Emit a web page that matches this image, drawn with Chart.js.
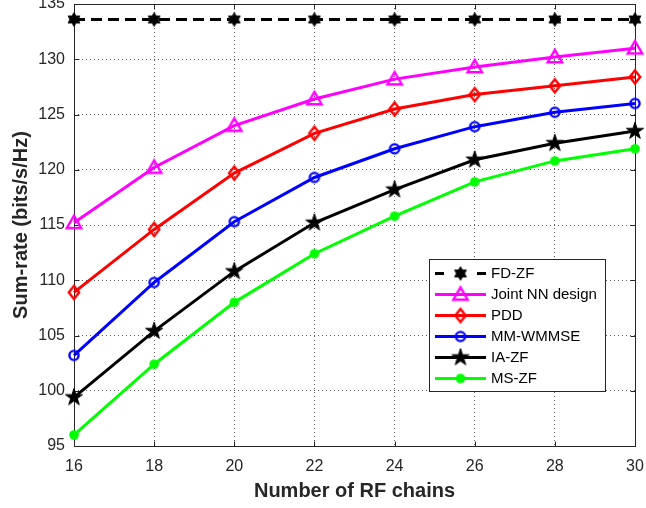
<!DOCTYPE html>
<html><head><meta charset="utf-8">
<script src="https://cdn.jsdelivr.net/npm/chart.js@4/dist/chart.umd.min.js"></script>
<style>html,body{margin:0;padding:0;background:#fff}#wrap{width:646px;height:508px;position:relative}</style>
</head><body><div id="wrap"><canvas id="c" width="646" height="508"></canvas></div>
<script>
// ---- data ----
const rfChains = [16, 18, 20, 22, 24, 26, 28, 30];
const fdZF     = [133.6, 133.6, 133.6, 133.6, 133.6, 133.6, 133.6, 133.6];
const jointNN  = [115.2, 120.2, 124.0, 126.4, 128.2, 129.3, 130.2, 131.0];
const pdd      = [108.9, 114.6, 119.7, 123.3, 125.5, 126.8, 127.6, 128.4];
const mmWMMSE  = [103.2, 109.8, 115.3, 119.3, 121.9, 123.9, 125.2, 126.0];
const iaZF     = [99.4, 105.4, 110.8, 115.2, 118.2, 120.9, 122.4, 123.5];
const msZF     = [96.0, 102.4, 108.0, 112.4, 115.8, 118.9, 120.8, 121.9];
const seriesNames = ['FD-ZF', 'Joint NN design', 'PDD', 'MM-WMMSE', 'IA-ZF', 'MS-ZF'];
const xTitle = 'Number of RF chains';
const yTitle = 'Sum-rate (bits/s/Hz)';

const FONT = "'Liberation Sans', Arial, Helvetica, sans-serif";
const TXT = '#262626';

// ---- marker images ----
function starPath(g, cx, cy, R, r, n) {
  g.beginPath();
  for (let k = 0; k < 2 * n; k++) {
    const a = -Math.PI / 2 + k * Math.PI / n;
    const rad = (k % 2 === 0) ? R : r;
    const px = cx + rad * Math.cos(a), py = cy + rad * Math.sin(a);
    if (k === 0) g.moveTo(px, py); else g.lineTo(px, py);
  }
  g.closePath();
}
function makeMarker(kind, color) {
  const sz = 24, m = sz / 2;
  const c = document.createElement('canvas');
  c.width = sz; c.height = sz;
  const g = c.getContext('2d');
  g.strokeStyle = color; g.fillStyle = color; g.lineJoin = 'miter';
  if (kind === 'hex') {
    starPath(g, m, m, 6.8, 6.8 / Math.sqrt(3), 6); g.fill(); g.lineWidth = 1; g.stroke();
  } else if (kind === 'pent') {
    starPath(g, m, m, 9, 9 * 0.382, 5); g.fill(); g.lineWidth = 1; g.stroke();
  } else if (kind === 'tri') {
    g.lineWidth = 2.4; g.beginPath();
    g.moveTo(m, m - 7.2); g.lineTo(m + 7.2, m + 5.2); g.lineTo(m - 7.2, m + 5.2); g.closePath(); g.stroke();
  } else if (kind === 'dia') {
    g.lineWidth = 2.4; g.beginPath();
    g.moveTo(m, m - 6.6); g.lineTo(m + 5.2, m); g.lineTo(m, m + 6.6); g.lineTo(m - 5.2, m); g.closePath(); g.stroke();
  } else if (kind === 'circ') {
    g.lineWidth = 2.4; g.beginPath(); g.arc(m, m, 4.6, 0, Math.PI * 2); g.stroke();
  } else if (kind === 'dot') {
    g.beginPath(); g.arc(m, m, 4.8, 0, Math.PI * 2); g.fill();
  }
  return c;
}

const styles = [
  { color: '#000000', marker: makeMarker('hex', '#000000'), dash: [11, 6] },
  { color: '#FF00FF', marker: makeMarker('tri', '#FF00FF'), dash: [] },
  { color: '#FF0000', marker: makeMarker('dia', '#FF0000'), dash: [] },
  { color: '#0000FF', marker: makeMarker('circ', '#0000FF'), dash: [] },
  { color: '#000000', marker: makeMarker('pent', '#000000'), dash: [] },
  { color: '#00FF00', marker: makeMarker('dot', '#00FF00'), dash: [] }
];
const seriesValues = [fdZF, jointNN, pdd, mmWMMSE, iaZF, msZF];

const datasets = seriesValues.map((vals, i) => ({
  label: seriesNames[i],
  data: rfChains.map((x, j) => ({ x: x, y: vals[j] })),
  borderColor: styles[i].color,
  backgroundColor: styles[i].color,
  borderWidth: 3,
  borderDash: styles[i].dash,
  pointStyle: styles[i].marker,
  pointRadius: 8,
  pointHoverRadius: 8,
  tension: 0,
  clip: false,
  fill: false
}));

// ---- plugin: box, inner ticks, legend ----
const decor = {
  id: 'decor',
  beforeDatasetsDraw(chart) {
    const { ctx, chartArea: a, scales: { x, y } } = chart;
    const L = Math.round(a.left) + 0.5, R = Math.round(a.right) + 0.5;
    const T = Math.round(a.top) + 0.5, B = Math.round(a.bottom) + 0.5;
    ctx.save();
    ctx.strokeStyle = TXT; ctx.lineWidth = 1; ctx.setLineDash([]);
    ctx.strokeRect(L, T, R - L, B - T);
    ctx.beginPath();
    x.ticks.forEach(t => {
      const px = Math.round(x.getPixelForValue(t.value)) + 0.5;
      ctx.moveTo(px, B); ctx.lineTo(px, B - 5);
      ctx.moveTo(px, T); ctx.lineTo(px, T + 5);
    });
    y.ticks.forEach(t => {
      const py = Math.round(y.getPixelForValue(t.value)) + 0.5;
      ctx.moveTo(L, py); ctx.lineTo(L + 5, py);
      ctx.moveTo(R, py); ctx.lineTo(R - 5, py);
    });
    ctx.stroke();
    ctx.restore();
  },
  afterDatasetsDraw(chart) {
    const ctx = chart.ctx;
    const bx = 429.5, by = 259.5, bw = 176, bh = 132;
    ctx.save();
    ctx.fillStyle = '#ffffff';
    ctx.fillRect(bx, by, bw, bh);
    ctx.strokeStyle = TXT; ctx.lineWidth = 1; ctx.setLineDash([]);
    ctx.strokeRect(bx, by, bw, bh);
    ctx.font = '15px ' + FONT;
    ctx.textBaseline = 'middle';
    ctx.textAlign = 'left';
    const x0 = 435, x1 = 486, xm = 460.5;
    chart.data.datasets.forEach((ds, i) => {
      const yy = 273.5 + i * 21;
      ctx.strokeStyle = ds.borderColor; ctx.lineWidth = 3;
      ctx.beginPath();
      if (i === 0) {
        ctx.moveTo(x0, yy); ctx.lineTo(x0 + 9, yy);
        ctx.moveTo(x1 - 9, yy); ctx.lineTo(x1, yy);
      } else {
        ctx.moveTo(x0, yy); ctx.lineTo(x1, yy);
      }
      ctx.stroke();
      const img = ds.pointStyle;
      ctx.drawImage(img, xm - img.width / 2, yy - img.height / 2);
      ctx.fillStyle = '#000000';
      ctx.fillText(ds.label, 491, yy + 0.5);
    });
    ctx.restore();
  }
};

Chart.defaults.font.family = FONT;
Chart.defaults.color = TXT;

new Chart(document.getElementById('c'), {
  type: 'line',
  data: { datasets: datasets },
  options: {
    responsive: false,
    animation: false,
    devicePixelRatio: 1,
    layout: { autoPadding: false, padding: { top: 4, right: 11, left: 0, bottom: 0 } },
    plugins: { legend: { display: false }, tooltip: { enabled: false } },
    scales: {
      x: {
        type: 'linear', min: 16, max: 30,
        ticks: { stepSize: 2, padding: 11, color: TXT, font: { size: 16 } },
        grid: { color: 'rgba(38,38,38,0.75)', lineWidth: 1, drawTicks: false },
        border: { display: false, dash: [1, 3] },
        title: { display: true, text: xTitle, color: TXT, font: { size: 20, weight: 'bold' }, padding: { top: 0, bottom: 4.7 } },
        afterFit(s) { s.height = 62; s.paddingLeft = 0; s.paddingRight = 0; }
      },
      y: {
        min: 95, max: 135,
        ticks: { stepSize: 5, padding: 9, color: TXT, font: { size: 16, lineHeight: 0.4 } },
        grid: { color: 'rgba(38,38,38,0.75)', lineWidth: 1, drawTicks: false },
        border: { display: false, dash: [1, 3] },
        title: { display: true, text: yTitle, color: TXT, font: { size: 20, weight: 'bold' }, padding: { top: 9.3, bottom: 0 } },
        afterFit(s) { s.width = 74; s.paddingTop = 0; s.paddingBottom = 0; }
      }
    }
  },
  plugins: [decor]
});
</script>
</body></html>
